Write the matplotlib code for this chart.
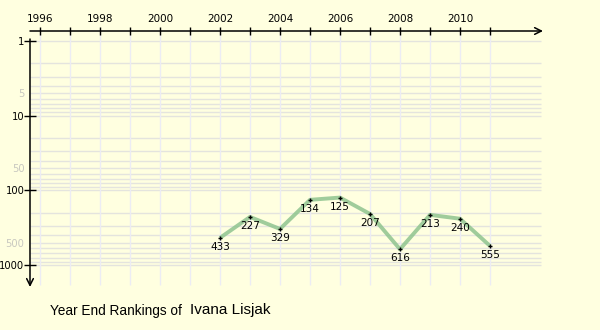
import matplotlib
matplotlib.use("Agg")
import matplotlib.pyplot as plt

# year end rankings
years = [2002, 2003, 2004, 2005, 2006, 2007, 2008, 2009, 2010, 2011]
ranks = [433, 227, 329, 134, 125, 207, 616, 213, 240, 555]
player = "Ivana Lisjak"

year_ticks = list(range(1996, 2012))
year_labels = [str(y) if y % 2 == 0 and y <= 2010 else "" for y in year_ticks]
major_ranks = [1, 10, 100, 1000]
minor_ranks = [5, 50, 500]

bg = "#ffffe0"
W, H = 600, 330
fig = plt.figure(figsize=(6, 3.3), dpi=100, facecolor=bg)

# layout in pixels: axes box from x=30..543, y=31..287
px_year = 30.0
px_decade = (265 - 41) / 3.0
ax = fig.add_axes([30 / W, (H - 287) / H, 513 / W, 256 / H])
ax.set_facecolor(bg)
ax.set_yscale("log")
ax.set_xlim(1996 - 10 / px_year, 1996 + 503 / px_year)
ax.set_ylim(10 ** ((287 - 41) / px_decade), 10 ** (-10 / px_decade))
for s in ax.spines.values():
    s.set_visible(False)

# grid
grid_vals = [m * 10 ** k for k in range(3) for m in range(1, 10)] + [1000]
ax.hlines(grid_vals, 1996 - 10 / px_year, 1996 + 501 / px_year,
          color="#e4e4de", lw=1, zorder=1)
ax.vlines(year_ticks, 10 ** ((285 - 41) / px_decade), 10 ** (-10 / px_decade),
          color="#ececf4", lw=1, zorder=1)

# axes with arrows
ax.annotate("", xy=(1.0, 1.0), xytext=(0.0, 1.0), xycoords="axes fraction",
            arrowprops=dict(arrowstyle="->", lw=1.1, color="black",
                            mutation_scale=12, shrinkA=0, shrinkB=0))
ax.annotate("", xy=(0.0, 0.0), xytext=(0.0, 248 / 256), xycoords="axes fraction",
            arrowprops=dict(arrowstyle="->", lw=1.1, color="black",
                            mutation_scale=12, shrinkA=0, shrinkB=0))

# ticks
ax.xaxis.tick_top()
ax.set_xticks(year_ticks)
ax.set_xticklabels(year_labels, fontsize=7.5, family="DejaVu Sans")
ax.tick_params(axis="x", direction="inout", length=6, width=1, pad=2)
ax.set_yticks(major_ranks)
ax.set_yticklabels([str(v) for v in major_ranks], fontsize=7.2)
ax.set_yticks(minor_ranks, minor=True)
ax.set_yticklabels([str(v) for v in minor_ranks], minor=True,
                   fontsize=7.2, color="#c8c8c0")
ax.tick_params(axis="y", which="major", direction="inout", length=8, width=1, pad=0)
ax.tick_params(axis="y", which="minor", length=0, pad=4)

# data
ax.plot(years, ranks, color="#8fc48f", lw=2.8, alpha=0.85, zorder=3,
        solid_capstyle="butt")
ax.plot(years, ranks, ls="none", marker="+", ms=3, mew=1, color="black", zorder=4)
for x, r in zip(years, ranks):
    ax.annotate(str(r), (x, r), xytext=(0, -3), textcoords="offset points",
                ha="center", va="top", fontsize=7.5, zorder=5)

fig.text(50 / W, 1 - 311 / H, "Year End Rankings of", fontsize=9.8,
         family="Liberation Sans", va="center", ha="left")
fig.text(190 / W, 1 - 310 / H, player, fontsize=11,
         family="Liberation Sans", va="center", ha="left")

fig.savefig("out.png", dpi=100, facecolor=bg)
